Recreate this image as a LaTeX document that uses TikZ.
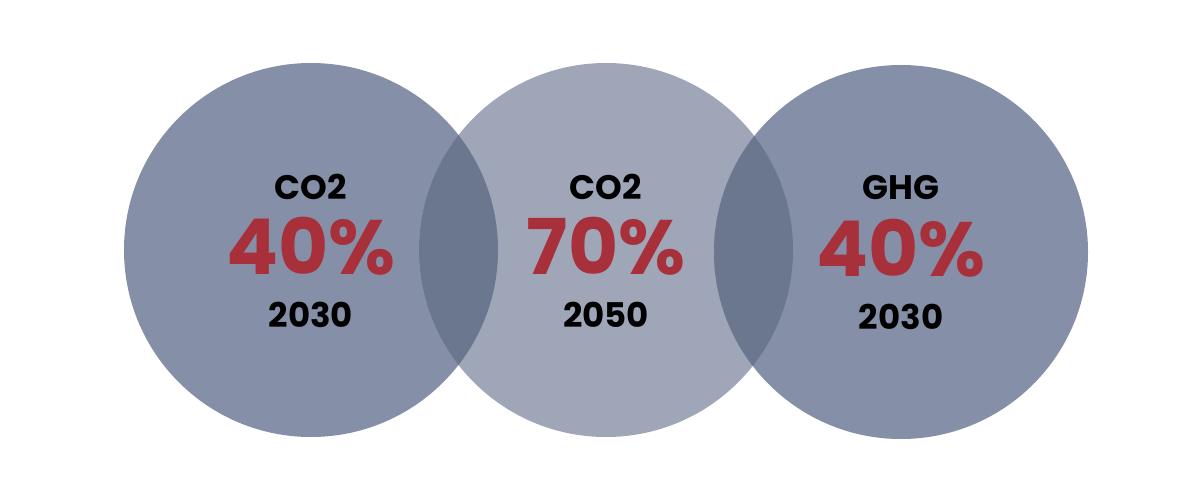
\documentclass[tikz,border=0pt]{standalone}
\usepackage{fontspec}
\setmainfont{Poppins}
\definecolor{ringdark}{HTML}{858FA7}
\definecolor{ringlight}{HTML}{9EA6B8}
\definecolor{ringover}{HTML}{6B778F}
\definecolor{pctred}{HTML}{A8303A}

\begin{document}
\begin{tikzpicture}[x=0.5pt, y=0.5pt,
    label/.style={font=\fontsize{17}{18}\selectfont\bfseries, text=black, inner sep=0pt},
    pct/.style={font=\fontsize{38.5}{42}\selectfont\bfseries, text=pctred, inner sep=0pt}]
    \useasboundingbox (0,0) rectangle (1200,500);
    \fill[ringdark] (311,250) circle (187);
    \fill[ringlight] (606,250) circle (187);
    \fill[ringdark] (901,248) circle (187);
    % overlaps
    \begin{scope}
        \clip (311,250) circle (187);
        \fill[ringover] (606,250) circle (187);
    \end{scope}
    \begin{scope}
        \clip (901,248) circle (187);
        \fill[ringover] (606,250) circle (187);
    \end{scope}
    \node[label] (lefttop) at (311,313) {CO2};
    \node[pct] (leftpct) at (311,254) {40\%};
    \node[label] (leftyear) at (311,185) {2030};
    \node[label] (midtop) at (606,313) {CO2};
    \node[pct] (midpct) at (606,254) {70\%};
    \node[label] (midyear) at (606,185) {2050};
    \node[label] (righttop) at (901,312) {GHG};
    \node[pct] (rightpct) at (901,252) {40\%};
    \node[label] (rightyear) at (901,183) {2030};
\end{tikzpicture}
\end{document}
